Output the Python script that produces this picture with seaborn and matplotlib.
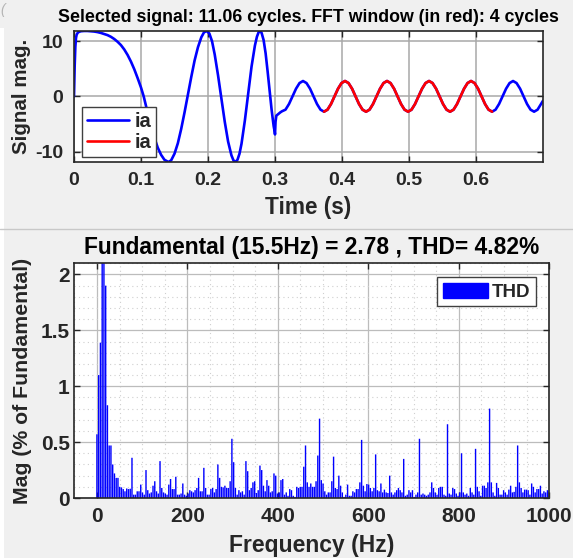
import numpy as np
import pandas as pd
import matplotlib
matplotlib.use("Agg")
import matplotlib.pyplot as plt
from matplotlib.lines import Line2D
from matplotlib.patches import Patch, Rectangle
from matplotlib.ticker import MultipleLocator
import seaborn as sns

# ---------------- data ----------------
# phase current ia, time samples (s) and values
ia_t = [
    0.000, 0.001, 0.002, 0.003, 0.004, 0.006, 0.010, 0.015, 0.020, 0.025,
    0.030, 0.035, 0.040, 0.045, 0.050, 0.055, 0.060, 0.065, 0.070, 0.075,
    0.080, 0.085, 0.090, 0.095, 0.100, 0.104, 0.110, 0.115, 0.120, 0.125,
    0.130, 0.135, 0.141, 0.145, 0.150, 0.155, 0.160, 0.165, 0.170, 0.175,
    0.180, 0.185, 0.190, 0.194, 0.198, 0.202, 0.206, 0.210, 0.215, 0.220,
    0.225, 0.230, 0.235, 0.238, 0.241, 0.244, 0.247, 0.250, 0.255, 0.260,
    0.265, 0.270, 0.273, 0.2755, 0.2776, 0.280, 0.283, 0.286, 0.289, 0.292,
    0.295, 0.298, 0.2995, 0.3000, 0.3008, 0.302, 0.305, 0.3080,
    0.3105, 0.3157, 0.3209, 0.3261, 0.3314, 0.3366,
    0.3418, 0.3470, 0.3523, 0.3575, 0.3627, 0.3679, 0.3732, 0.3784, 0.3836,
    0.3888, 0.3941, 0.3993, 0.4045, 0.4097, 0.4150, 0.4202, 0.4254, 0.4306,
    0.4359, 0.4411, 0.4463, 0.4515, 0.4568, 0.4620, 0.4672, 0.4724, 0.4777,
    0.4829, 0.4881, 0.4933, 0.4986, 0.5038, 0.5090, 0.5142, 0.5195, 0.5247,
    0.5299, 0.5351, 0.5404, 0.5456, 0.5508, 0.5560, 0.5613, 0.5665, 0.5717,
    0.5769, 0.5822, 0.5874, 0.5926, 0.5978, 0.6031, 0.6083, 0.6135, 0.6187,
    0.6240, 0.6292, 0.6344, 0.6396, 0.6449, 0.6501, 0.6553, 0.6605, 0.6658,
    0.6710, 0.6762, 0.6814, 0.6867, 0.6919, 0.6971, 0.7000,
]
ia_val = [
    0.0, 5.5, 9.0, 10.6, 11.2, 11.6, 11.8, 11.85, 11.85, 11.8,
    11.75, 11.65, 11.5, 11.3, 11.1, 10.8, 10.4, 9.9, 9.3, 8.5,
    7.5, 6.3, 4.9, 3.3, 1.6, 0.0, -3.0, -5.4, -7.5, -9.3,
    -10.6, -11.5, -11.9, -11.6, -10.4, -8.5, -5.9, -2.9, 0.3, 3.5,
    6.5, 8.9, 10.7, 11.6, 11.85, 11.4, 10.0, 7.6, 3.8, -0.4,
    -4.6, -8.2, -10.7, -11.6, -11.9, -11.5, -10.4, -8.6, -4.4, 0.5,
    5.4, 9.2, 10.8, 11.6, 11.85, 11.5, 10.2, 7.8, 4.5, 1.0,
    -2.5, -5.4, -6.4, -6.9, -4.6, -3.5, -3.2, -2.9,
    -2.7, -2.41, -1.39, 0.0, 1.39, 2.41,
    2.78, 2.41, 1.39, 0.0, -1.39, -2.41, -2.78, -2.41, -1.39,
    0.0, 1.39, 2.41, 2.78, 2.41, 1.39, 0.0, -1.39, -2.41,
    -2.78, -2.41, -1.39, 0.0, 1.39, 2.41, 2.78, 2.41, 1.39,
    0.0, -1.39, -2.41, -2.78, -2.41, -1.39, 0.0, 1.39, 2.41,
    2.78, 2.41, 1.39, 0.0, -1.39, -2.41, -2.78, -2.41, -1.39,
    0.0, 1.39, 2.41, 2.78, 2.41, 1.39, 0.0, -1.39, -2.41,
    -2.78, -2.41, -1.39, 0.0, 1.39, 2.41, 2.78, 2.41, 1.39,
    0.0, -1.39, -2.41, -2.78, -2.41, -1.39, -0.8,
]
# FFT window (4 cycles), drawn in red
window_start = 0.3732
window_end = 0.6240

# harmonic spectrum, % of fundamental, one value per FFT bin
fund_hz = 15.5
fund_mag = 2.78
thd_pct = 4.82
window_cycles = 4
mag_pct = [
    0.57, 1.10, 1.39, 2.60, 100.0, 1.90, 0.83, 0.47, 0.47, 0.30,
    0.22, 0.18, 0.18, 0.10, 0.095, 0.08, 0.06, 0.085, 0.08, 0.083,
    0.36, 0.03, 0.03, 0.06, 0.06, 0.12, 0.05, 0.03, 0.25, 0.07,
    0.04, 0.05, 0.11, 0.15, 0.06, 0.04, 0.33, 0.09, 0.05, 0.04,
    0.03, 0.12, 0.17, 0.08, 0.08, 0.19, 0.03, 0.03, 0.04, 0.13,
    0.03, 0.02, 0.04, 0.07, 0.06, 0.05, 0.07, 0.09, 0.18, 0.06,
    0.06, 0.27, 0.09, 0.03, 0.03, 0.08, 0.09, 0.05, 0.08, 0.30,
    0.18, 0.10, 0.095, 0.11, 0.09, 0.09, 0.15, 0.53, 0.32, 0.09,
    0.03, 0.07, 0.05, 0.06, 0.03, 0.33, 0.24, 0.07, 0.09, 0.14,
    0.15, 0.045, 0.07, 0.29, 0.25, 0.11, 0.06, 0.16, 0.11, 0.05,
    0.06, 0.22, 0.20, 0.04, 0.05, 0.16, 0.17, 0.03, 0.05, 0.02,
    0.08, 0.07, 0.02, 0.01, 0.10, 0.09, 0.10, 0.10, 0.28, 0.47,
    0.14, 0.10, 0.13, 0.10, 0.10, 0.15, 0.38, 0.71, 0.16, 0.13,
    0.06, 0.03, 0.05, 0.05, 0.15, 0.37, 0.09, 0.08, 0.20, 0.11,
    0.05, 0.01, 0.03, 0.12, 0.02, 0.02, 0.06, 0.05, 0.08, 0.08,
    0.14, 0.52, 0.11, 0.06, 0.125, 0.12, 0.09, 0.06, 0.09, 0.39,
    0.07, 0.06, 0.13, 0.05, 0.075, 0.05, 0.045, 0.20, 0.05, 0.03,
    0.05, 0.07, 0.09, 0.07, 0.05, 0.35, 0.02, 0.03, 0.07, 0.05,
    0.07, 0.01, 0.03, 0.05, 0.53, 0.03, 0.04, 0.03, 0.02, 0.03,
    0.05, 0.14, 0.09, 0.05, 0.03, 0.09, 0.10, 0.10, 0.03, 0.02,
    0.66, 0.04, 0.03, 0.09, 0.08, 0.04, 0.02, 0.05, 0.40, 0.05,
    0.03, 0.04, 0.02, 0.09, 0.05, 0.03, 0.44, 0.10, 0.06, 0.02,
    0.11, 0.11, 0.09, 0.14, 0.80, 0.14, 0.05, 0.02, 0.135, 0.09,
    0.03, 0.03, 0.07, 0.05, 0.03, 0.075, 0.11, 0.05, 0.055, 0.10,
    0.47, 0.14, 0.09, 0.05, 0.075, 0.075, 0.07, 0.03, 0.13, 0.10,
    0.05, 0.08, 0.08, 0.11, 0.04, 0.06, 0.05, 0.07, 0.06,
]

time_ticks = [0, 0.1, 0.2, 0.3, 0.4, 0.5, 0.6]
time_labels = ["0", "0.1", "0.2", "0.3", "0.4", "0.5", "0.6"]
sig_ticks = [-10, 0, 10]
sig_labels = ["-10", "0", "10"]
freq_ticks = [0, 200, 400, 600, 800, 1000]
freq_labels = ["0", "200", "400", "600", "800", "1000"]
mag_ticks = [0, 0.5, 1, 1.5, 2]
mag_labels = ["0", "0.5", "1", "1.5", "2"]

# ---------------- style ----------------
sns.set_style("ticks")
plt.rcParams["font.family"] = ["Liberation Sans", "DejaVu Sans"]
plt.rcParams["font.weight"] = "bold"
plt.rcParams["axes.labelweight"] = "bold"
plt.rcParams["axes.titleweight"] = "bold"

INK = "#262626"
BG = "#f0f0f0"
BLUE = "#0000ff"
RED = "#ff0000"

W, H = 573, 558
fig = plt.figure(figsize=(W / 100, H / 100), dpi=100, facecolor=BG)

def px_axes(x0, y0, x1, y1):
    return fig.add_axes([x0 / W, 1 - y1 / H, (x1 - x0) / W, (y1 - y0) / H])

ax1 = px_axes(74, 30.7, 543, 162)
ax2 = px_axes(74.3, 263.3, 549.3, 498)

# ---------------- signal panel ----------------
sig = pd.DataFrame({"t": ia_t, "ia": ia_val})
win = sig[(sig["t"] >= window_start - 1e-9) & (sig["t"] <= window_end + 1e-9)]

sns.lineplot(data=sig, x="t", y="ia", color=BLUE, lw=1.9, ax=ax1,
             estimator=None, sort=False, label="ia")
sns.lineplot(data=win, x="t", y="ia", color=RED, lw=1.9, ax=ax1,
             estimator=None, sort=False, label="ia")

ax1.set_xlim(0, 0.7)
ax1.set_ylim(-11.9, 11.9)
ax1.set_xticks(time_ticks, time_labels)
ax1.set_yticks(sig_ticks, sig_labels)
ax1.grid(True, color="#a8a8a8", lw=1.1)
ax1.set_axisbelow(True)
ax1.set_xlabel("Time (s)", fontsize=16.3, color=INK)
ax1.set_ylabel("Signal mag.", fontsize=14.8, color=INK)
ax1.xaxis.set_label_coords(0.5, -0.35)
ax1.xaxis.label.set_va("center")
ax1.yaxis.set_label_coords(-0.1115, 0.5)
ax1.yaxis.label.set_va("center")
ax1.set_title(
    f"Selected signal: 11.06 cycles. FFT window (in red): {window_cycles} cycles",
    fontsize=12.8, color="#000000", y=1.097, va="center", pad=0)
ax1.tick_params(axis="both", direction="in", top=True, right=True,
                length=4, width=1, colors=INK, labelsize=14)
ax1.tick_params(axis="x", pad=7)
ax1.tick_params(axis="y", pad=8)
leg1 = ax1.legend(loc="lower left", bbox_to_anchor=(0.017, 0.038),
                  borderaxespad=0, fontsize=14.5, handlelength=2.1,
                  handletextpad=0.25, labelspacing=0.12, borderpad=0.25,
                  fancybox=False, framealpha=1, edgecolor="#404040")
leg1.get_frame().set_linewidth(1.0)

# ---------------- spectrum panel ----------------
spec = pd.DataFrame({
    "freq": np.arange(len(mag_pct)) * fund_hz / window_cycles,
    "mag": mag_pct,
})
sns.barplot(data=spec, x="freq", y="mag", native_scale=True, color=BLUE,
            saturation=1, width=0.8, errorbar=None, ax=ax2)
# thin bars: plain blue fill, no outline
for bar in ax2.patches:
    bar.set_facecolor(BLUE)
    bar.set_edgecolor("none")
    bar.set_linewidth(0)
    bar.set_snap(False)
    bar.set_antialiased(True)

ax2.set_xlim(-50, 1000)
ax2.set_ylim(0, 2.1)
ax2.set_xticks(freq_ticks, freq_labels)
ax2.set_yticks(mag_ticks, mag_labels)
ax2.xaxis.set_minor_locator(MultipleLocator(50))
ax2.yaxis.set_minor_locator(MultipleLocator(0.1))
ax2.set_axisbelow(True)
ax2.grid(True, which="major", color="#bcbcbc", lw=0.9)
ax2.grid(True, which="minor", color="#cfcfcf", lw=0.8, ls=(0, (1, 3)))
ax2.set_xlabel("Frequency (Hz)", fontsize=16.5, color=INK)
ax2.set_ylabel("Mag (% of Fundamental)", fontsize=15.3, color=INK)
ax2.xaxis.set_label_coords(0.5, -0.203)
ax2.xaxis.label.set_va("center")
ax2.yaxis.set_label_coords(-0.110, 0.5)
ax2.yaxis.label.set_va("center")
ax2.set_title(
    f"Fundamental ({fund_hz}Hz) = {fund_mag} , THD= {thd_pct}%",
    fontsize=16.4, color="#000000", y=1.0665, va="center", pad=0)
ax2.tick_params(axis="both", which="major", direction="in", top=True,
                right=True, length=4, width=1, colors=INK, labelsize=15)
ax2.tick_params(which="minor", length=0)
ax2.tick_params(axis="x", pad=6.4)
ax2.tick_params(axis="y", pad=3.3)
leg2 = ax2.legend(handles=[Patch(facecolor=BLUE, edgecolor=BLUE, label="THD")],
                  loc="upper right", bbox_to_anchor=(0.972, 0.942),
                  borderaxespad=0, fontsize=13.5, handlelength=2.4,
                  handleheight=0.9, handletextpad=0.2, borderpad=0.3,
                  fancybox=False, framealpha=1, edgecolor="#404040")
leg2.get_frame().set_linewidth(1.0)

for ax in (ax1, ax2):
    for sp in ax.spines.values():
        sp.set_visible(True)
        sp.set_color(INK)
        sp.set_linewidth(1.2)

# window chrome: separator between panels, left strip and clipped glyph
fig.add_artist(Line2D([0, 1], [1 - 229 / H] * 2, color="#c8c8c8", lw=1,
                      transform=fig.transFigure))
fig.add_artist(Rectangle((0, 0), 3.5 / W, (H - 28) / H, facecolor="white",
                         edgecolor="none", transform=fig.transFigure))
fig.text(0.0, 1 - 10 / H, "(", color="#b4b4b4", fontsize=10,
         style="italic", fontweight="normal", va="center", ha="left")

fig.savefig("out.png", dpi=100, facecolor=BG)
